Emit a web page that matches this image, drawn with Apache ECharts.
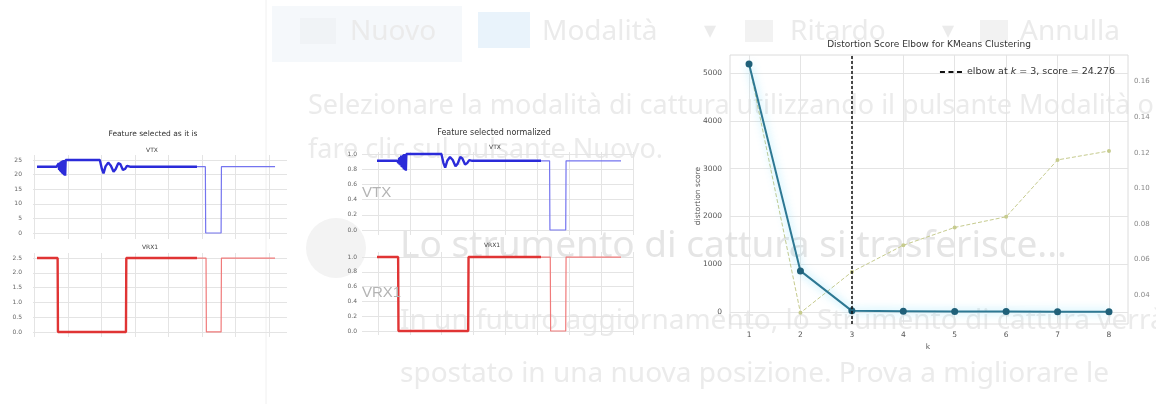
<!DOCTYPE html>
<html>
<head>
<meta charset="utf-8">
<script src="https://cdn.jsdelivr.net/npm/echarts@6/dist/echarts.min.js"></script>
<style>
  html, body { margin: 0; padding: 0; background: #ffffff; }
  #c { width: 1156px; height: 404px; }
</style>
</head>
<body>
<div id="c"></div>
<script>
// ---- Feature signals, raw scale: [sample, value] ----
const vtxRawMain = [
  [75, 22.7], [660, 22.7], [690, 23.3], [705, 22.1], [720, 23.8], [735, 21.6], [750, 24.1],
  [765, 21.2], [780, 24.4], [795, 20.8], [810, 24.6], [825, 20.4], [840, 24.8], [855, 20.1],
  [870, 25.0], [885, 19.8], [900, 25.0], [915, 19.6], [930, 25.0], [1950, 25.0], [2010, 22.0],
  [2060, 20.4], [2120, 22.8], [2200, 24.1], [2280, 23.0], [2360, 21.0], [2420, 21.8],
  [2500, 23.9], [2560, 23.6], [2640, 21.6], [2700, 21.9], [2760, 23.0], [2850, 22.7], [4850, 22.7]
];
const vtxRawTail = [[4850, 22.7], [5100, 22.7], [5110, 0], [5570, 0], [5580, 22.7], [7180, 22.7]];
const vrxRawMain = [[75, 2.5], [690, 2.5], [700, 0], [2730, 0], [2740, 2.5], [4850, 2.5]];
const vrxRawTail = [[4850, 2.5], [5120, 2.5], [5130, 0], [5570, 0], [5580, 2.5], [7180, 2.5]];

// ---- Feature signals, normalized scale ----
const vtxNormMain = [
  [75, 0.91], [660, 0.91], [690, 0.93], [705, 0.88], [720, 0.95], [735, 0.86], [750, 0.96],
  [765, 0.85], [780, 0.98], [795, 0.83], [810, 0.98], [825, 0.82], [840, 0.99], [855, 0.80],
  [870, 1.0], [885, 0.79], [900, 1.0], [915, 0.78], [930, 1.0], [1950, 1.0], [2010, 0.88],
  [2060, 0.82], [2120, 0.91], [2200, 0.96], [2280, 0.92], [2360, 0.84], [2420, 0.87],
  [2500, 0.96], [2560, 0.94], [2640, 0.86], [2700, 0.88], [2760, 0.92], [2850, 0.91], [4850, 0.91]
];
const vtxNormTail = [[4850, 0.91], [5100, 0.91], [5110, 0], [5570, 0], [5580, 0.91], [7180, 0.91]];
const vrxNormMain = [[75, 1.0], [690, 1.0], [700, 0], [2730, 0], [2740, 1.0], [4850, 1.0]];
const vrxNormTail = [[4850, 1.0], [5120, 1.0], [5130, 0], [5570, 0], [5580, 1.0], [7180, 1.0]];

// ---- Tick values ----
const rawSampleTicks = [0, 1000, 2000, 3000, 4000, 5000, 6000, 7000];
const normSampleTicks = [100, 1030, 1960, 2890, 3820, 4750, 5680, 6610, 7540];
const vtxTicks = [0, 5, 10, 15, 20, 25];
const vrxTicks = [0, 0.5, 1.0, 1.5, 2.0, 2.5];
const normTicks = [0, 0.2, 0.4, 0.6, 0.8, 1.0];

// ---- KMeans elbow ----
const kValues = [1, 2, 3, 4, 5, 6, 7, 8];
const distortion = [5190, 860, 24.276, 16.9, 11.5, 8.2, 6.1, 4.7];
const fitTime = [0.170, 0.030, 0.053, 0.068, 0.078, 0.084, 0.116, 0.121];
const distortionTicks = [0, 1000, 2000, 3000, 4000, 5000];
const fitTimeTicks = [0.04, 0.06, 0.08, 0.10, 0.12, 0.14, 0.16];
const elbowK = 3;
const elbowScore = '24.276';

const zip = (xs, ys) => xs.map((x, i) => [x, ys[i]]);

const chartFont = 'DejaVu Sans';
const gridGray = '#e4e4e4';
const labelGray = '#555';

function sampleAxis(grid, min, max, ticks) {
  return {
    type: 'value', gridIndex: grid, min: min, max: max,
    axisLine: { show: false }, axisLabel: { show: false },
    axisTick: { show: false, customValues: ticks },
    splitLine: { show: true, lineStyle: { color: gridGray, width: 1 } }
  };
}
function valueAxis(grid, min, max, ticks, digits, margin) {
  return {
    type: 'value', gridIndex: grid, min: min, max: max,
    axisLine: { show: false },
    axisTick: { show: false, customValues: ticks },
    axisLabel: {
      customValues: ticks, fontSize: 6, color: '#666', fontFamily: chartFont, margin: margin,
      formatter: v => v.toFixed(digits)
    },
    splitLine: { show: true, lineStyle: { color: gridGray, width: 1 } }
  };
}
function signal(xi, data, color, width) {
  return {
    type: 'line', xAxisIndex: xi, yAxisIndex: xi, data: data, showSymbol: false,
    lineStyle: { color: color, width: width }, itemStyle: { color: color },
    silent: true, z: 3
  };
}

// Faded window text behind the charts
const bgText = '#ebebeb';
const uiFont = '"Noto Sans"';
const background = [
  { type: 'rect', shape: { x: 272, y: 6, width: 190, height: 56 }, style: { fill: '#f5f8fb' }, z: -5 },
  { type: 'line', shape: { x1: 266, y1: 0, x2: 266, y2: 404 }, style: { stroke: '#f0f0f0', lineWidth: 1 }, z: -5 },
  { type: 'rect', shape: { x: 300, y: 18, width: 36, height: 26 }, style: { fill: '#f0f3f6' }, z: -4 },
  { type: 'rect', shape: { x: 478, y: 12, width: 52, height: 36 }, style: { fill: '#e9f3fb' }, z: -4 },
  { type: 'rect', shape: { x: 745, y: 20, width: 28, height: 22 }, style: { fill: '#f2f2f2' }, z: -4 },
  { type: 'rect', shape: { x: 980, y: 20, width: 28, height: 22 }, style: { fill: '#f2f2f2' }, z: -4 },
  { type: 'text', x: 350, y: 32, style: { text: 'Nuovo', font: '28px ' + uiFont, fill: bgText, verticalAlign: 'middle' }, z: -4 },
  { type: 'text', x: 542, y: 32, style: { text: 'Modalità', font: '28px ' + uiFont, fill: bgText, verticalAlign: 'middle' }, z: -4 },
  { type: 'text', x: 704, y: 32, style: { text: '▾', font: '24px "DejaVu Sans"', fill: bgText, verticalAlign: 'middle' }, z: -4 },
  { type: 'text', x: 790, y: 32, style: { text: 'Ritardo', font: '28px ' + uiFont, fill: bgText, verticalAlign: 'middle' }, z: -4 },
  { type: 'text', x: 942, y: 32, style: { text: '▾', font: '24px "DejaVu Sans"', fill: bgText, verticalAlign: 'middle' }, z: -4 },
  { type: 'text', x: 1020, y: 32, style: { text: 'Annulla', font: '28px ' + uiFont, fill: bgText, verticalAlign: 'middle' }, z: -4 },
  { type: 'text', x: 308, y: 106, style: { text: 'Selezionare la modalità di cattura utilizzando il pulsante Modalità o', font: '27px ' + uiFont, fill: bgText, verticalAlign: 'middle' }, z: -4 },
  { type: 'text', x: 308, y: 150, style: { text: 'fare clic sul pulsante Nuovo.', font: '27px ' + uiFont, fill: bgText, verticalAlign: 'middle' }, z: -4 },
  { type: 'circle', shape: { cx: 336, cy: 248, r: 30 }, style: { fill: '#f3f3f3' }, z: -4 },
  { type: 'text', x: 400, y: 246, style: { text: 'Lo strumento di cattura si trasferisce...', font: '37px ' + uiFont, fill: '#e5e5e5', verticalAlign: 'middle' }, z: -4 },
  { type: 'text', x: 400, y: 321, style: { text: 'In un futuro aggiornamento, lo Strumento di cattura verrà', font: '28px ' + uiFont, fill: bgText, verticalAlign: 'middle' }, z: -4 },
  { type: 'text', x: 400, y: 374, style: { text: 'spostato in una nuova posizione. Prova a migliorare le', font: '28px ' + uiFont, fill: bgText, verticalAlign: 'middle' }, z: -4 },
  { type: 'text', x: 400, y: 422, style: { text: 'funzionalità e i nuovi modi per acquisire schermate', font: '28px ' + uiFont, fill: bgText, verticalAlign: 'middle' }, z: -4 }
];

const labels = [
  { type: 'text', x: 153, y: 134, style: { text: 'Feature selected as it is', font: '7.5px "DejaVu Sans"', fill: '#333', align: 'center', verticalAlign: 'middle' }, z: 10 },
  { type: 'text', x: 152, y: 150, style: { text: 'VTX', font: '6px "DejaVu Sans"', fill: '#444', align: 'center', verticalAlign: 'middle' }, z: 10 },
  { type: 'text', x: 150, y: 247, style: { text: 'VRX1', font: '6px "DejaVu Sans"', fill: '#444', align: 'center', verticalAlign: 'middle' }, z: 10 },
  { type: 'text', x: 494, y: 133, style: { text: 'Feature selected normalized', font: '8px "DejaVu Sans"', fill: '#333', align: 'center', verticalAlign: 'middle' }, z: 10 },
  { type: 'text', x: 495, y: 147, style: { text: 'VTX', font: '6px "DejaVu Sans"', fill: '#444', align: 'center', verticalAlign: 'middle' }, z: 10 },
  { type: 'text', x: 492, y: 245, style: { text: 'VRX1', font: '6px "DejaVu Sans"', fill: '#444', align: 'center', verticalAlign: 'middle' }, z: 10 },
  { type: 'text', x: 362, y: 193, style: { text: 'VTX', font: '15px "Liberation Sans"', fill: '#b4b4b4', verticalAlign: 'middle' }, z: 10 },
  { type: 'text', x: 362, y: 293, style: { text: 'VRX1', font: '15px "Liberation Sans"', fill: '#b4b4b4', verticalAlign: 'middle' }, z: 10 },
  { type: 'text', x: 929, y: 45, style: { text: 'Distortion Score Elbow for KMeans Clustering', font: '9px "DejaVu Sans"', fill: '#333', align: 'center', verticalAlign: 'middle' }, z: 10 },
  { type: 'text', x: 698, y: 196, rotation: Math.PI / 2, style: { text: 'distortion score', font: '7.5px "DejaVu Sans"', fill: '#555', align: 'center', verticalAlign: 'middle' }, z: 10 },
  { type: 'text', x: 928, y: 347, style: { text: 'k', font: '7.5px "DejaVu Sans"', fill: '#555', align: 'center', verticalAlign: 'middle' }, z: 10 }
];

const elbowName = 'elbow';
// three short dashes for the elbow legend key
const dashIcon = 'path://M0,0h5v2h-5z M8.5,0h5v2h-5z M17,0h5v2h-5z';

const option = {
  animation: false,
  backgroundColor: '#ffffff',
  textStyle: { fontFamily: chartFont },
  graphic: { elements: background.concat(labels) },
  grid: [
    { left: 33, top: 155, width: 254, height: 84 },
    { left: 33, top: 253, width: 254, height: 84 },
    { left: 362, top: 152, width: 272, height: 83 },
    { left: 362, top: 252, width: 272, height: 83 },
    { left: 730, top: 55, width: 398, height: 269, show: true, borderColor: '#dcdcdc', borderWidth: 1 }
  ],
  xAxis: [
    sampleAxis(0, -45, 7537, rawSampleTicks),
    sampleAxis(1, -45, 7537, rawSampleTicks),
    sampleAxis(2, -362, 7558, normSampleTicks),
    sampleAxis(3, -362, 7558, normSampleTicks),
    {
      type: 'value', gridIndex: 4, min: 0.63, max: 8.37,
      axisLine: { show: false },
      axisTick: { show: false, customValues: kValues },
      axisLabel: { customValues: kValues, fontSize: 7.5, color: labelGray, fontFamily: chartFont, margin: 7 },
      splitLine: { show: true, lineStyle: { color: gridGray, width: 1 } }
    }
  ],
  yAxis: [
    valueAxis(0, -2.05, 26.7, vtxTicks, 0, 11),
    valueAxis(1, -0.17, 2.67, vrxTicks, 1, 11),
    valueAxis(2, -0.066, 1.026, normTicks, 1, 5),
    valueAxis(3, -0.054, 1.068, normTicks, 1, 5),
    {
      type: 'value', gridIndex: 4, min: -251, max: 5377,
      axisLine: { show: false },
      axisTick: { show: false, customValues: distortionTicks },
      axisLabel: { customValues: distortionTicks, fontSize: 7.5, color: labelGray, fontFamily: chartFont, margin: 8,
        formatter: v => String(v) },
      splitLine: { show: true, lineStyle: { color: gridGray, width: 1 } }
    },
    {
      type: 'value', gridIndex: 4, position: 'right', min: 0.0237, max: 0.175,
      axisLine: { show: false },
      axisTick: { show: false, customValues: fitTimeTicks },
      axisLabel: { customValues: fitTimeTicks, fontSize: 7, color: '#888', fontFamily: chartFont, margin: 6,
        formatter: v => v.toFixed(2) },
      splitLine: { show: false }
    }
  ],
  legend: {
    data: [{ name: elbowName, icon: dashIcon }],
    right: 36, top: 62,
    itemWidth: 22, itemHeight: 2, itemGap: 4,
    itemStyle: { color: '#111' },
    formatter: () => 'elbow at {i|k} = ' + elbowK + ', score = ' + elbowScore,
    textStyle: {
      fontSize: 9.5, color: '#333', fontFamily: chartFont,
      rich: { i: { fontStyle: 'italic', fontSize: 9.5, color: '#333', fontFamily: chartFont } }
    }
  },
  series: [
    signal(0, vtxRawMain, '#2b2bd9', 2.4),
    signal(0, vtxRawTail, '#7474ef', 1.2),
    signal(1, vrxRawMain, '#e03434', 2.4),
    signal(1, vrxRawTail, '#f07a7a', 1.2),
    signal(2, vtxNormMain, '#2b2bd9', 2.4),
    signal(2, vtxNormTail, '#7474ef', 1.2),
    signal(3, vrxNormMain, '#e03434', 2.4),
    signal(3, vrxNormTail, '#f07a7a', 1.2),
    {
      name: 'fit time', type: 'line', xAxisIndex: 4, yAxisIndex: 5,
      data: zip(kValues, fitTime), symbol: 'circle', symbolSize: 4,
      lineStyle: { color: '#c6cb8e', width: 1, type: 'dashed' },
      itemStyle: { color: '#c6cb8e' }, z: 3
    },
    {
      name: 'distortion', type: 'line', xAxisIndex: 4, yAxisIndex: 4,
      data: zip(kValues, distortion), symbol: 'circle', symbolSize: 7,
      lineStyle: { color: '#2d7893', width: 2, shadowColor: 'rgba(80,210,250,0.7)', shadowBlur: 8 },
      itemStyle: { color: '#1f6079' }, z: 4
    },
    {
      name: elbowName, type: 'line', xAxisIndex: 4, yAxisIndex: 4, data: [],
      symbol: 'none',
      lineStyle: { color: '#111', width: 1.5, type: 'dashed' },
      itemStyle: { color: '#111' },
      markLine: {
        silent: true, symbol: 'none', label: { show: false },
        lineStyle: { color: '#111', width: 1.5, type: [3, 2] },
        data: [{ xAxis: elbowK }]
      },
      z: 5
    }
  ]
};

const chart = echarts.init(document.getElementById('c'), null, { renderer: 'canvas' });
chart.setOption(option);
</script>
</body>
</html>
